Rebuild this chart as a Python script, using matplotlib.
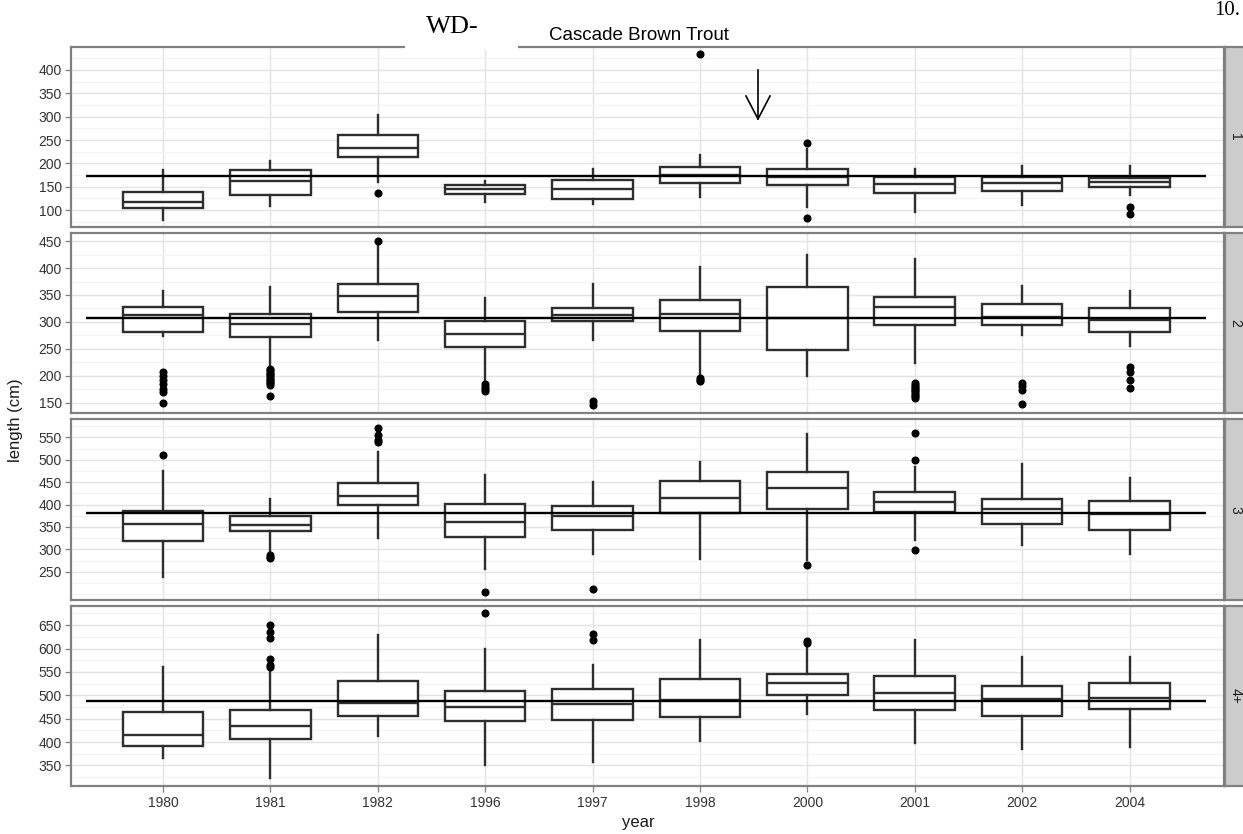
import matplotlib
matplotlib.use("Agg")
import matplotlib.pyplot as plt
from matplotlib.lines import Line2D
from matplotlib.patches import Rectangle
from matplotlib.ticker import MultipleLocator, FixedLocator

plt.rcParams['font.family'] = ['Liberation Sans', 'DejaVu Sans']

# ---------------- data ----------------
years = ['1980', '1981', '1982', '1996', '1997', '1998', '2000', '2001', '2002', '2004']
ages = ['1', '2', '3', '4+']

whislo = [
    [79, 108, 160, 118, 114, 128, 106, 97, 110, 132],
    [273, 218, 267, 190, 267, 200, 199, 224, 276, 255],
    [239, 291, 326, 257, 290, 279, 276, 322, 310, 289],
    [365, 323, 412, 350, 357, 402, 460, 399, 386, 390],
]
q1 = [
    [104, 132, 213, 134, 124, 159, 153, 136, 142, 150],
    [281, 272, 319, 254, 301, 284, 247, 295, 295, 282],
    [318, 340, 398, 327, 344, 381, 390, 384, 357, 344],
    [391, 406, 455, 446, 447, 454, 501, 468, 455, 471],
]
med = [
    [117, 162, 232, 144.5, 145, 176, 172, 157, 158, 161],
    [312, 297, 348, 278, 313, 314, 308, 327, 309.5, 304],
    [357, 355, 420, 362, 375, 414, 438, 406, 390, 378],
    [416, 435, 483, 476, 481, 490, 526, 504, 492, 495],
]
q3 = [
    [139, 185, 260, 153, 164, 192, 189, 170, 172, 169],
    [327, 314, 371, 302, 326, 340, 364, 346, 333.5, 326],
    [386, 375, 449, 401, 396, 453, 472, 429, 412, 408],
    [464, 469, 531, 510, 514, 535, 546, 541, 519, 527],
]
whishi = [
    [186, 205, 304, 162, 188, 219, 231, 188, 194, 194],
    [358, 365, 443, 345, 370, 401, 424, 417, 366, 358],
    [474, 413, 517, 466, 450, 496, 557, 483, 490, 459],
    [561, 552, 629, 598, 565, 619, 607, 619, 581, 581],
]
fliers = [
    [[], [], [136], [], [], [434], [244, 84], [], [], [106, 92]],
    [[207, 200, 193, 185, 175, 170, 149],
     [213, 210, 207, 204, 201, 198, 195, 192, 189, 186, 183, 162],
     [450],
     [184, 180, 176, 172],
     [154, 145],
     [196, 193, 190],
     [],
     [186, 183, 180, 177, 174, 171, 168, 165, 162, 159],
     [187, 181, 174, 148],
     [217, 208, 193, 178]],
    [[511], [287, 284, 280], [572, 555, 545, 540], [205], [211], [], [265],
     [560, 500, 298], [], []],
    [[], [650, 636, 623, 578, 565, 560], [], [675], [632, 618], [], [616, 611],
     [], [], []],
]
ref_line = [173, 307, 382, 488]

y_limits = [(64, 449), (131, 465), (187, 591), (306, 691)]
y_ticks = [[100, 150, 200, 250, 300, 350, 400],
           [150, 200, 250, 300, 350, 400, 450],
           [250, 300, 350, 400, 450, 500, 550],
           [350, 400, 450, 500, 550, 600, 650]]

# ---------------- layout ----------------
W, H = 1243, 834
fig = plt.figure(figsize=(W / 100, H / 100), dpi=100)
fig.patch.set_facecolor('white')


def fx(px):
    return px / W


def fy(py):
    return 1 - py / H


panel_left, panel_right = 71, 1224
panel_rows = [(47, 227), (233, 413), (419, 600), (606, 786)]
strip_left, strip_right = 1225, 1248

border_col = '#808080'
box_col = '#2e2e2e'
text_col = '#333333'
positions = list(range(1, len(years) + 1))

for i, (top, bot) in enumerate(panel_rows):
    ax = fig.add_axes([fx(panel_left), fy(bot), fx(panel_right - panel_left),
                       (bot - top) / H])
    ax.set_facecolor('white')
    stats = []
    for j, yr in enumerate(years):
        stats.append(dict(whislo=whislo[i][j], q1=q1[i][j], med=med[i][j],
                          q3=q3[i][j], whishi=whishi[i][j],
                          fliers=fliers[i][j], label=yr))
    ax.bxp(stats, positions=positions, widths=0.75, showcaps=False,
           patch_artist=True,
           boxprops=dict(facecolor='white', edgecolor=box_col, linewidth=1.7),
           medianprops=dict(color=box_col, linewidth=1.7),
           whiskerprops=dict(color=box_col, linewidth=1.7),
           flierprops=dict(marker='o', markerfacecolor='black',
                           markeredgecolor='black', markersize=4.8),
           zorder=2)
    ax.plot([0.283, 10.717], [ref_line[i], ref_line[i]], color='black',
            linewidth=1.7, zorder=4, solid_capstyle='butt')

    ax.set_xlim(0.143, 10.88)
    ax.set_ylim(*y_limits[i])
    ax.yaxis.set_major_locator(FixedLocator(y_ticks[i]))
    ax.yaxis.set_minor_locator(MultipleLocator(25))
    ax.xaxis.set_major_locator(FixedLocator(positions))
    ax.set_axisbelow(True)
    ax.grid(which='major', axis='both', color='#e3e3e3', linewidth=1.0)
    ax.grid(which='minor', axis='y', color='#f3f3f3', linewidth=0.8)
    ax.tick_params(axis='y', which='major', length=4, width=0.9, color=border_col,
                   labelsize=10, labelcolor=text_col, pad=2.5)
    ax.tick_params(axis='y', which='minor', length=0)
    if i == len(panel_rows) - 1:
        ax.set_xticks(positions)
        ax.set_xticklabels(years)
        ax.tick_params(axis='x', length=4, width=0.9, color=border_col,
                       labelsize=10, labelcolor=text_col, pad=3)
    else:
        ax.tick_params(axis='x', length=0, labelbottom=False)
    for s in ax.spines.values():
        s.set_color(border_col)
        s.set_linewidth(1.6)

    # facet strip
    sax = fig.add_axes([fx(strip_left), fy(bot), fx(strip_right - strip_left),
                        (bot - top) / H])
    sax.set_facecolor('#cccccc')
    sax.set_xticks([])
    sax.set_yticks([])
    for s in sax.spines.values():
        s.set_color(border_col)
        s.set_linewidth(1.6)
    sax.text(0.45, 0.5, ages[i], rotation=-90, ha='center', va='center',
             fontsize=10, color='#1a1a1a', transform=sax.transAxes)

# titles
fig.text(fx(639), fy(35), 'Cascade Brown Trout', ha='center', va='center',
         fontsize=13.5, color='black')
fig.text(fx(638), fy(822), 'year', ha='center', va='center', fontsize=12,
         color='#1a1a1a')
fig.text(fx(16), fy(420), 'length (cm)', ha='center', va='center',
         rotation=90, fontsize=12, color='#1a1a1a')

# scanned-document overlay marks
fig.patches.append(Rectangle((fx(405), fy(50)), fx(113), 12 / H,
                             transform=fig.transFigure, facecolor='white',
                             edgecolor='none', zorder=10))
fig.text(fx(426), fy(33), 'WD-', ha='left', va='baseline',
         fontsize=19, family=['Liberation Serif', 'DejaVu Serif'],
         color='black', zorder=11)
fig.text(fx(1214), fy(15), '10.', ha='left', va='baseline',
         fontsize=15, family=['Liberation Serif', 'DejaVu Serif'],
         color='black', zorder=11)
for xs, ys in [([758, 758], [70, 119]), ([746, 758, 770], [96, 119, 96])]:
    fig.lines.append(Line2D([fx(x) for x in xs], [fy(y) for y in ys],
                            transform=fig.transFigure, color='black',
                            linewidth=1.2, zorder=11))

fig.savefig('out.png', dpi=100)
